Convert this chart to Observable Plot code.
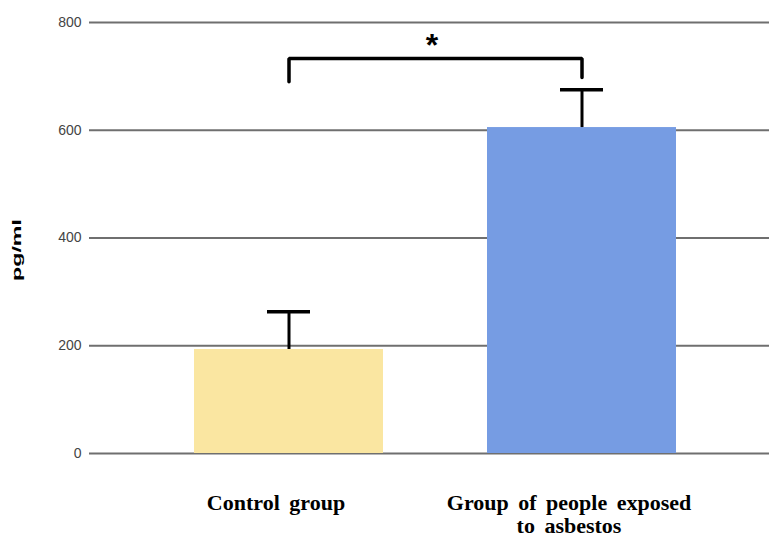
<!DOCTYPE html>
<html>
<head>
<meta charset="utf-8">
<script src="https://cdn.jsdelivr.net/npm/d3@7"></script>
<script src="https://cdn.jsdelivr.net/npm/@observablehq/plot@0.6"></script>
<style>
  html, body { margin: 0; padding: 0; background: #fff; }
</style>
</head>
<body>
<div id="chart"></div>
<script>
const groups = ["Control group", "Group of people exposed to asbestos"];
const groupLabels = ["Control group", "Group of people exposed\nto asbestos"];
const means = [193, 605];
const errors = [70, 70];
const barColors = ["#FAE6A1", "#769CE3"];
const yTicks = [0, 200, 400, 600, 800];
const bracketTop = 733;
const bracketLegs = [690, 698];
const significance = "*";
const starValue = 748;

const data = groups.map((g, i) => ({group: g, mean: means[i], hi: means[i] + errors[i], color: barColors[i]}));
const bracket = [
  {group: groups[0], v: bracketLegs[0]},
  {group: groups[0], v: bracketTop},
  {group: groups[1], v: bracketTop},
  {group: groups[1], v: bracketLegs[1]}
];

const plot = Plot.plot({
  width: 769,
  height: 537,
  marginLeft: 89,
  marginRight: 0,
  marginTop: 22,
  marginBottom: 84,
  style: {background: "#fff", overflow: "visible"},
  x: {domain: groups, range: [89, 781], padding: 0.354},
  y: {domain: [0, 800]},
  marks: [
    Plot.ruleY(yTicks, {stroke: "#6f6f6f", strokeWidth: 2}),
    Plot.barY(data, {x: "group", y: "mean", fill: "color"}),
    Plot.ruleX(data, {x: "group", y1: "mean", y2: "hi", stroke: "#000", strokeWidth: 3}),
    Plot.tickY(data, {x: "group", y: "hi", stroke: "#000", strokeWidth: 3.5, insetLeft: 73, insetRight: 73}),
    Plot.line(bracket, {x: "group", y: "v", stroke: "#000", strokeWidth: 3.5, strokeLinejoin: "miter"}),
    Plot.text([significance], {x: () => groups[0], y: () => starValue, text: d => d, dx: 143, fontSize: 32, fontWeight: "bold", fill: "#000", fontFamily: "Liberation Sans, Arial, sans-serif", lineAnchor: "bottom", dy: 5}),
    Plot.axisY({ticks: yTicks, tickSize: 0, tickPadding: 8, fontSize: 14, fill: "#444", fontFamily: "Liberation Sans, Arial, sans-serif",
      label: "pg/ml", labelAnchor: "center", labelArrow: "none", labelOffset: 78}),
    Plot.axisX({tickSize: 0, tickPadding: 40, tickFormat: (d) => groupLabels[groups.indexOf(d)], fontSize: 22, fontWeight: "bold",
      fontFamily: "Liberation Serif, Times New Roman, serif", fill: "#000", lineHeight: 1.06, dx: -13, label: null})
  ]
});

d3.select(plot).selectAll('[aria-label="y-axis label"] text')
  .style("font-weight", "bold").style("font-size", "13px")
  .attr("textLength", 62).attr("lengthAdjust", "spacingAndGlyphs")
  .attr("dx", -12).attr("fill", "#000");
d3.select(plot).selectAll('[aria-label="x-axis tick label"] text').style("word-spacing", "4px");
document.getElementById("chart").appendChild(plot);
</script>
</body>
</html>
